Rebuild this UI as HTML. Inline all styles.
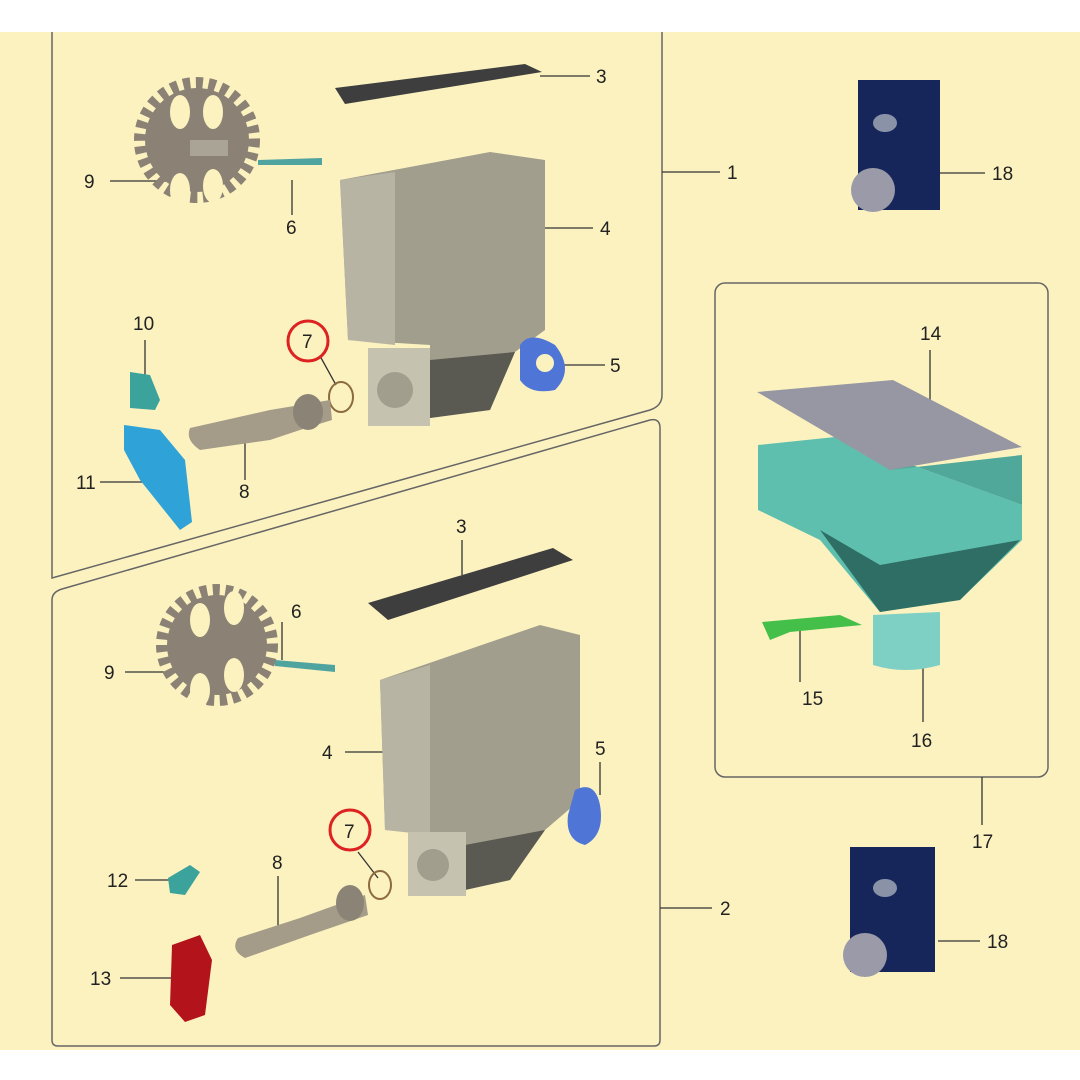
<!DOCTYPE html>
<html><head><meta charset="utf-8"><style>
html,body{margin:0;padding:0;background:#fff}
svg{display:block}
text{font-family:"Liberation Sans",Arial,sans-serif;font-size:19px;fill:#222}
</style></head><body>
<svg width="1080" height="1080" viewBox="0 0 1080 1080">
<rect x="0" y="0" width="1080" height="1080" fill="#fff"/>
<rect x="0" y="32" width="1080" height="1018" fill="#fcf2c0"/>
<g fill="none" stroke="#666" stroke-width="1.5">
<path d="M52 32 V578 L650 410 Q662 406 662 395 V32"/>
<path d="M52 600 Q52 592 62 589 L650 420 Q660 418 660 428 V1040 Q660 1046 654 1046 H58 Q52 1046 52 1040 Z"/>
<rect x="715" y="283" width="333" height="494" rx="10"/>
</g>
<g stroke="#333" stroke-width="1.3">
<line x1="540" y1="76" x2="590" y2="76"/>
<line x1="662" y1="172" x2="720" y2="172"/>
<line x1="110" y1="181" x2="170" y2="181"/>
<line x1="292" y1="180" x2="292" y2="215"/>
<line x1="523" y1="228" x2="593" y2="228"/>
<line x1="145" y1="340" x2="145" y2="390"/>
<line x1="562" y1="365" x2="605" y2="365"/>
<line x1="320" y1="356" x2="336" y2="385"/>
<line x1="245" y1="440" x2="245" y2="480"/>
<line x1="100" y1="482" x2="155" y2="482"/>
<line x1="940" y1="173" x2="985" y2="173"/>
<line x1="930" y1="350" x2="930" y2="410"/>
<line x1="800" y1="625" x2="800" y2="682"/>
<line x1="923" y1="640" x2="923" y2="722"/>
<line x1="982" y1="777" x2="982" y2="825"/>
<line x1="462" y1="540" x2="462" y2="575"/>
<line x1="282" y1="622" x2="282" y2="660"/>
<line x1="125" y1="672" x2="178" y2="672"/>
<line x1="345" y1="752" x2="400" y2="752"/>
<line x1="600" y1="762" x2="600" y2="795"/>
<line x1="358" y1="852" x2="378" y2="878"/>
<line x1="278" y1="876" x2="278" y2="928"/>
<line x1="135" y1="880" x2="180" y2="880"/>
<line x1="660" y1="908" x2="712" y2="908"/>
<line x1="120" y1="978" x2="172" y2="978"/>
<line x1="938" y1="941" x2="980" y2="941"/>
</g>
<!-- upper panel parts -->
<path d="M335 88 L525 64 L542 72 L345 104 Z" fill="#3e3e3e"/>
<circle cx="197" cy="140" r="52" fill="#8b8275"/>
<circle cx="197" cy="140" r="56" fill="none" stroke="#8b8275" stroke-width="14" stroke-dasharray="7 5.5"/>
<g fill="#fcf2c0"><ellipse cx="180" cy="112" rx="10" ry="17"/><ellipse cx="213" cy="112" rx="10" ry="17"/><ellipse cx="180" cy="190" rx="10" ry="17"/><ellipse cx="213" cy="186" rx="10" ry="17"/></g>
<rect x="190" y="140" width="38" height="16" fill="#aaa496"/>
<path d="M258 160 L322 158 L322 165 L258 165 Z" fill="#4fa4a0"/>
<path d="M340 180 L490 152 L545 160 L545 330 L515 352 L490 410 L430 418 L430 345 L348 340 Z" fill="#a29e8e"/>
<path d="M340 180 L395 172 L395 345 L348 340 Z" fill="#b8b4a4"/>
<path d="M430 360 L515 352 L490 410 L430 418 Z" fill="#5a5a52"/>
<rect x="368" y="348" width="62" height="78" fill="#c6c2b0"/>
<circle cx="395" cy="390" r="18" fill="#a29e8e"/>
<path d="M520 345 Q530 330 555 345 Q575 370 555 390 Q530 395 520 380 Z" fill="#4f76d6"/>
<circle cx="545" cy="363" r="9" fill="#fcf2c0"/>
<circle cx="308" cy="341" r="20" fill="none" stroke="#d22" stroke-width="3"/>
<ellipse cx="341" cy="397" rx="12" ry="15" fill="none" stroke="#8b6a40" stroke-width="2"/>
<path d="M190 428 L270 410 L300 405 L330 400 L332 420 L300 430 L270 440 L200 450 Q185 440 190 428 Z" fill="#a49c88"/>
<ellipse cx="308" cy="412" rx="15" ry="18" fill="#8b8476"/>
<path d="M130 372 L150 375 L160 400 L155 410 L130 408 Z" fill="#3ca39c"/>
<path d="M124 425 L160 430 L185 460 L192 522 L180 530 L140 480 L124 450 Z" fill="#2fa2d8"/>
<!-- lower panel parts -->
<path d="M368 603 L553 548 L573 560 L388 620 Z" fill="#3e3e3e"/>
<circle cx="217" cy="645" r="50" fill="#8b8275"/>
<circle cx="217" cy="645" r="54" fill="none" stroke="#8b8275" stroke-width="14" stroke-dasharray="7 5.5"/>
<g fill="#fcf2c0"><ellipse cx="200" cy="620" rx="10" ry="17"/><ellipse cx="234" cy="608" rx="10" ry="17"/><ellipse cx="200" cy="690" rx="10" ry="17"/><ellipse cx="234" cy="675" rx="10" ry="17"/></g>
<path d="M275 660 L335 665 L335 672 L275 666 Z" fill="#4fa4a0"/>
<path d="M380 680 L540 625 L580 635 L580 800 L545 830 L510 880 L465 890 L465 835 L385 830 Z" fill="#a29e8e"/>
<path d="M380 680 L430 665 L430 835 L385 830 Z" fill="#b8b4a4"/>
<path d="M465 845 L545 830 L510 880 L465 890 Z" fill="#5a5a52"/>
<rect x="408" y="832" width="58" height="64" fill="#c6c2b0"/>
<circle cx="433" cy="865" r="16" fill="#a29e8e"/>
<path d="M575 790 Q595 780 600 805 Q605 835 585 845 Q565 840 568 815 Z" fill="#4f76d6"/>
<circle cx="350" cy="830" r="20" fill="none" stroke="#d22" stroke-width="3"/>
<ellipse cx="380" cy="885" rx="11" ry="14" fill="none" stroke="#8b6a40" stroke-width="2"/>
<path d="M238 938 L300 918 L350 900 L365 895 L368 915 L310 935 L245 958 Q230 950 238 938 Z" fill="#a49c88"/>
<ellipse cx="350" cy="903" rx="14" ry="18" fill="#8b8476"/>
<path d="M168 878 L190 865 L200 872 L185 895 L170 893 Z" fill="#3ca39c"/>
<path d="M172 945 L200 935 L212 960 L205 1015 L185 1022 L170 1005 Z" fill="#b3141b"/>
<!-- right parts -->
<rect x="858" y="80" width="82" height="130" fill="#17265a"/>
<ellipse cx="885" cy="123" rx="12" ry="9" fill="#8a92a8"/>
<ellipse cx="873" cy="190" rx="22" ry="22" fill="#9a9aa8"/>
<rect x="850" y="847" width="85" height="125" fill="#17265a"/>
<ellipse cx="885" cy="888" rx="12" ry="9" fill="#8a92a8"/>
<ellipse cx="865" cy="955" rx="22" ry="22" fill="#9a9aa8"/>
<path d="M758 445 L835 437 L1022 505 L1022 540 L960 600 L880 612 L820 540 L758 510 Z" fill="#5fbfaf"/>
<path d="M835 437 L890 470 L1022 455 L1022 505 Z" fill="#4fa89a"/>
<path d="M820 530 L880 565 L1020 540 L960 600 L880 612 Z" fill="#2f6e64"/>
<path d="M757 392 L893 380 L1022 447 L890 470 Z" fill="#9797a4"/>
<path d="M873 615 L940 612 L940 665 Q905 675 873 665 Z" fill="#7fd0c4"/>
<path d="M762 622 L840 615 L862 625 L790 632 L770 640 Z" fill="#44c04a"/>
<text x="596" y="83">3</text>
<text x="727" y="179">1</text>
<text x="84" y="188">9</text>
<text x="286" y="234">6</text>
<text x="600" y="235">4</text>
<text x="133" y="330">10</text>
<text x="302" y="348" font-size="20">7</text>
<text x="610" y="372">5</text>
<text x="239" y="498">8</text>
<text x="76" y="489">11</text>
<text x="992" y="180">18</text>
<text x="920" y="340">14</text>
<text x="802" y="705">15</text>
<text x="911" y="747">16</text>
<text x="972" y="848">17</text>
<text x="456" y="533">3</text>
<text x="291" y="618">6</text>
<text x="104" y="679">9</text>
<text x="322" y="759">4</text>
<text x="595" y="755">5</text>
<text x="344" y="838" font-size="20">7</text>
<text x="272" y="869">8</text>
<text x="107" y="887">12</text>
<text x="720" y="915">2</text>
<text x="90" y="985">13</text>
<text x="987" y="948">18</text>
</svg>
</body></html>
